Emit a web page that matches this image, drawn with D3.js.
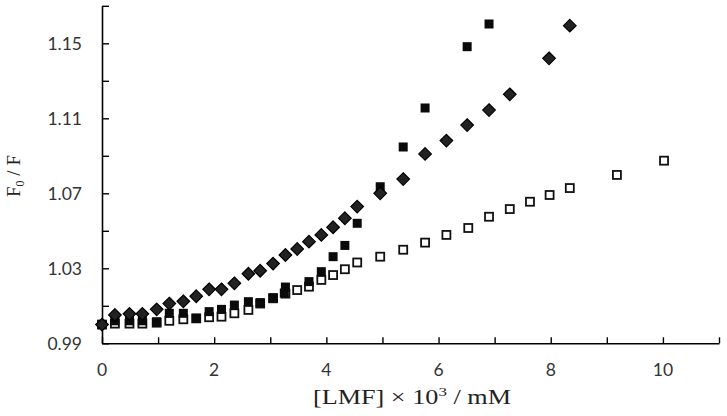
<!DOCTYPE html>
<html><head><meta charset="utf-8">
<script src="https://cdn.jsdelivr.net/npm/d3@7"></script>
<style>body{margin:0;background:#fff}svg{display:block}</style>
</head><body>
<svg id="c" width="727" height="416"></svg>
<script>
// ---- data ----
const diamondX = [0, 0.23, 0.49, 0.72, 0.975, 1.2, 1.45, 1.68, 1.91, 2.13, 2.36, 2.61, 2.82, 3.05, 3.27, 3.48, 3.69, 3.91, 4.12, 4.33, 4.55, 4.96, 5.37, 5.76, 6.14, 6.51, 6.90, 7.27, 7.97, 8.34];
const diamondY = [1.000, 1.0051, 1.0057, 1.0057, 1.0081, 1.0112, 1.0124, 1.0151, 1.0188, 1.0188, 1.0220, 1.0271, 1.0287, 1.0325, 1.0371, 1.0403, 1.0442, 1.0478, 1.0519, 1.0567, 1.0629, 1.0700, 1.0776, 1.0910, 1.0981, 1.1064, 1.1144, 1.1228, 1.1420, 1.1594];
const filledX = [0, 0.23, 0.49, 0.72, 0.975, 1.2, 1.45, 1.68, 1.91, 2.13, 2.36, 2.61, 2.82, 3.05, 3.25, 3.27, 3.69, 3.91, 4.12, 4.33, 4.55, 4.96, 5.37, 5.76, 6.51, 6.90];
const filledY = [1.000, 1.002, 1.002, 1.002, 1.0015, 1.006, 1.006, 1.0033, 1.0069, 1.0081, 1.0104, 1.0122, 1.0117, 1.0143, 1.0168, 1.0200, 1.0229, 1.0282, 1.0362, 1.0422, 1.0540, 1.0735, 1.0947, 1.1155, 1.1482, 1.1603];
const openX = [0, 0.23, 0.49, 0.72, 0.975, 1.2, 1.45, 1.68, 1.91, 2.13, 2.36, 2.61, 2.82, 3.05, 3.27, 3.48, 3.69, 3.91, 4.12, 4.33, 4.55, 4.96, 5.37, 5.76, 6.14, 6.53, 6.90, 7.27, 7.63, 7.98, 8.34, 9.18, 10.02];
const openY = [1.000, 1.0005, 1.0005, 1.0005, 1.001, 1.002, 1.0028, 1.0033, 1.0039, 1.0042, 1.006, 1.0078, 1.0112, 1.0140, 1.0165, 1.0184, 1.0202, 1.0238, 1.0264, 1.0295, 1.0331, 1.0362, 1.0399, 1.0437, 1.0478, 1.0515, 1.0575, 1.0616, 1.0655, 1.0691, 1.0728, 1.0798, 1.0874];
const yMajorTicks = [0.99, 1.03, 1.07, 1.11, 1.15];
const yMinorTicks = [1.01, 1.05, 1.09, 1.13, 1.17];
const xTicks = [0,1,2,3,4,5,6,7,8,9,10,11];
const xLabelTicks = [0,2,4,6,8,10];

// ---- scales ----
const svg = d3.select('#c');
const x = d3.scaleLinear().domain([0, 11]).range([102, 719]);
const y = d3.scaleLinear().domain([0.99, 1.17]).range([343.3, 5.8]);

// axes
const gx = svg.append('g').attr('transform', `translate(0,${y(0.99)})`)
  .call(d3.axisBottom(x).tickValues(xTicks).tickSize(-6).tickSizeOuter(0).tickFormat(''));
const gy = svg.append('g').attr('transform', `translate(${x(0)},0)`)
  .call(d3.axisLeft(y).tickValues(yMajorTicks.concat(yMinorTicks)).tickSize(-7).tickSizeOuter(0).tickFormat(''));
[gx, gy].forEach(g => {
  g.select('.domain').attr('stroke', '#000').attr('stroke-width', 1.6);
  g.selectAll('.tick line').attr('stroke', '#000').attr('stroke-width', 1.4);
});

const tickFont = 'Lato, "Open Sans", sans-serif';
svg.append('g').selectAll('text').data(xLabelTicks).join('text')
  .attr('x', d => x(d)).attr('y', 376)
  .attr('text-anchor', 'middle')
  .attr('font-family', tickFont).attr('font-size', 17.5).attr('fill', '#333')
  .text(d => d);
svg.append('g').selectAll('text').data(yMajorTicks).join('text')
  .attr('x', 82).attr('y', d => y(d) + 6.5)
  .attr('text-anchor', 'end')
  .attr('font-family', tickFont).attr('font-size', 17.5).attr('fill', '#333')
  .text(d => d.toFixed(2));

// axis titles
const serif = '"Liberation Serif", "DejaVu Serif", serif';
const xt = svg.append('text').attr('x', 412).attr('y', 404).attr('text-anchor', 'middle')
  .attr('font-family', serif).attr('font-size', 20).attr('fill', '#222')
  .attr('textLength', 198).attr('lengthAdjust', 'spacingAndGlyphs');
xt.append('tspan').text('[LMF] × 10');
xt.append('tspan').attr('font-size', 13).attr('dy', -8).text('3');
xt.append('tspan').attr('dy', 8).text(' / mM');

const yt = svg.append('text').attr('transform', 'translate(20,176) rotate(-90)').attr('text-anchor', 'middle')
  .attr('font-family', serif).attr('font-size', 19).attr('fill', '#222');
yt.append('tspan').text('F');
yt.append('tspan').attr('font-size', 12).attr('dy', 4).text('0');
yt.append('tspan').attr('dy', -4).text(' / F');

// ---- marks ----
const open = openX.map((v, i) => [v, openY[i]]);
const filled = filledX.map((v, i) => [v, filledY[i]]);
const dia = diamondX.map((v, i) => [v, diamondY[i]]);

svg.append('g').selectAll('rect').data(open).join('rect')
  .attr('x', d => x(d[0]) - 4).attr('y', d => y(d[1]) - 4)
  .attr('width', 8).attr('height', 8)
  .attr('fill', '#fff').attr('stroke', '#111').attr('stroke-width', 1.8);

svg.append('g').selectAll('rect').data(filled).join('rect')
  .attr('x', d => x(d[0]) - 4.5).attr('y', d => y(d[1]) - 4.5)
  .attr('width', 9).attr('height', 9)
  .attr('fill', '#0a0a0a');

const ds = 6.3;
svg.append('g').selectAll('path').data(dia).join('path')
  .attr('transform', d => `translate(${x(d[0])},${y(d[1])})`)
  .attr('d', `M0,${-ds}L${ds},0L0,${ds}L${-ds},0Z`)
  .attr('fill', '#222').attr('stroke', '#000').attr('stroke-width', 1.2);
</script>
</body></html>
